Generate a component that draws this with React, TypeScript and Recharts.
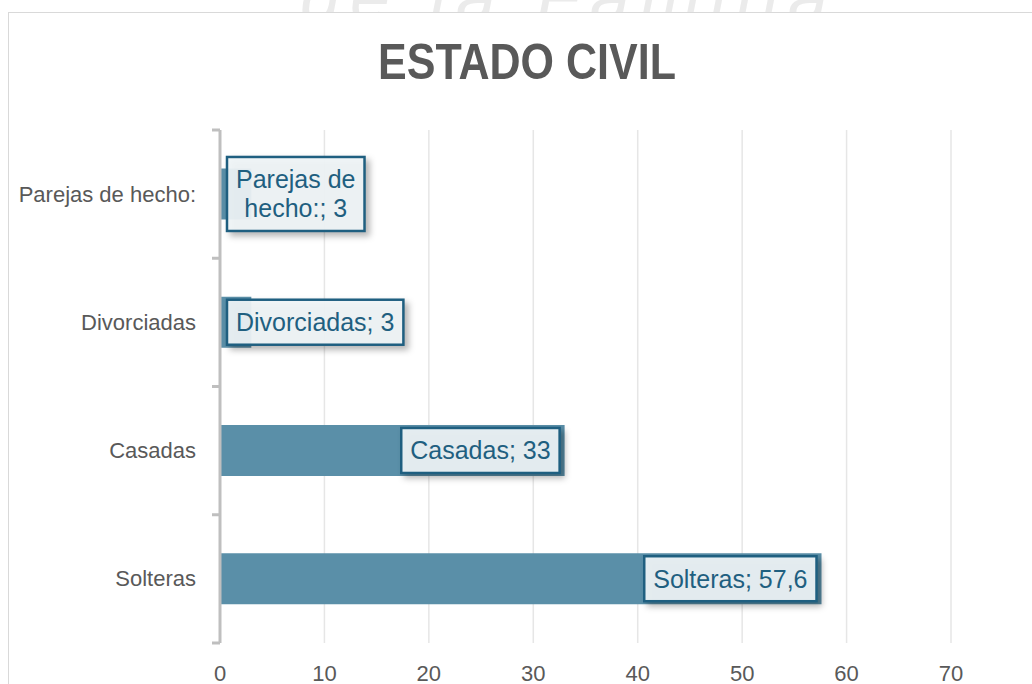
import { Bar, BarChart, CartesianGrid, LabelList, XAxis, YAxis } from "recharts";

const categories = ["Parejas de hecho:", "Divorciadas", "Casadas", "Solteras"];
const values = [3, 3, 33, 57.6];
const xTicks = [0, 10, 20, 30, 40, 50, 60, 70];

const data = categories.map((name, i) => ({ name, value: values[i] }));

const FONT = '"Liberation Sans", Arial, sans-serif';
const GREY = "#595959";
const BAR = "#5a8fa8";
const DARK = "#1f5f80";
const LABEL_FS = 25;
const LINE_H = 29;
const PAD_X = 9;
const PAD_Y = 8;
const MAX_LINE = 175;

let ctx: CanvasRenderingContext2D | null = null;
function textWidth(s: string) {
  if (!ctx) ctx = document.createElement("canvas").getContext("2d");
  if (!ctx) return s.length * LABEL_FS * 0.55;
  ctx.font = `${LABEL_FS}px "Liberation Sans"`;
  return ctx.measureText(s).width;
}

// greedy word wrap, like Excel does for long data labels
function wrap(s: string) {
  const words = s.split(" ");
  const lines: string[] = [];
  let cur = "";
  for (const w of words) {
    const next = cur ? cur + " " + w : w;
    if (cur && textWidth(next) > MAX_LINE) {
      lines.push(cur);
      cur = w;
    } else cur = next;
  }
  if (cur) lines.push(cur);
  return lines;
}

function CategoryTick(props: any) {
  const { x, y, payload, index } = props;
  const half = payload.offset || 64;
  return (
    <g>
      <text x={x - 24} y={y} textAnchor="end" dominantBaseline="central" fill={GREY} fontSize={22} fontFamily={FONT}>
        {payload.value}
      </text>
      <line x1={x - 8} x2={x} y1={y - half} y2={y - half} stroke="#bfbfbf" strokeWidth={3} />
      {index === categories.length - 1 && (
        <line x1={x - 8} x2={x} y1={y + half} y2={y + half} stroke="#bfbfbf" strokeWidth={3} />
      )}
    </g>
  );
}

function ValueTick(props: any) {
  const { x, y, payload } = props;
  return (
    <text x={x} y={y + 38} textAnchor="middle" fill={GREY} fontSize={22} fontFamily={FONT}>
      {payload.value}
    </text>
  );
}

function BoxLabel(props: any) {
  const { x, y, width, height, value, index } = props;
  const text = `${categories[index]}; ${String(value).replace(".", ",")}`;
  const lines = wrap(text);
  const w = Math.max(...lines.map(textWidth)) + PAD_X * 2;
  const h = lines.length * LINE_H + PAD_Y * 2;
  const bx = w + 10 < width ? x + width - w - 5 : x + 7;
  const by = y + height / 2 - h / 2;
  return (
    <g>
      <rect
        x={bx}
        y={by}
        width={w}
        height={h}
        fill="rgba(240,245,248,0.93)"
        stroke={DARK}
        strokeWidth={2.5}
        style={{ filter: "drop-shadow(4px 4px 3px rgba(0,0,0,0.3))" }}
      />
      {lines.map((l, i) => (
        <text
          key={i}
          x={bx + w / 2}
          y={by + PAD_Y + LINE_H * i + LINE_H / 2}
          textAnchor="middle"
          dominantBaseline="central"
          fill={DARK}
          fontSize={LABEL_FS}
          fontFamily={FONT}
        >
          {l}
        </text>
      ))}
    </g>
  );
}

export default function App() {
  return (
    <div style={{ position: "fixed", left: 0, top: 0, width: 1032, height: 684, overflow: "hidden", background: "#fff" }}>
      {/* faint watermark peeking above the chart frame */}
      <div
        style={{
          position: "absolute",
          left: 300,
          top: -44,
          fontFamily: FONT,
          fontStyle: "italic",
          fontSize: 72,
          letterSpacing: 10,
          color: "#ebebeb",
          whiteSpace: "nowrap",
        }}
      >
        de la Familia
      </div>
      <div
        style={{
          position: "absolute",
          left: 8,
          top: 12,
          width: 1100,
          height: 700,
          border: "1px solid #d9d9d9",
          background: "#fff",
        }}
      />
      <div
        style={{
          position: "absolute",
          left: 11,
          top: 37,
          width: 1032,
          textAlign: "center",
          fontFamily: FONT,
          fontWeight: "bold",
          fontSize: 50,
          lineHeight: "50px",
          color: GREY,
          transform: "scaleX(0.86)",
        }}
      >
        ESTADO CIVIL
      </div>
      <div style={{ position: "absolute", left: 0, top: 0 }}>
        <BarChart
          width={1032}
          height={684}
          data={data}
          layout="vertical"
          margin={{ top: 130, right: 81, bottom: 0, left: 0 }}
          barCategoryGap="30%"
        >
          <CartesianGrid horizontal={false} stroke="#e6e6e6" strokeWidth={1.5} />
          <XAxis
            type="number"
            domain={[0, 70]}
            ticks={xTicks}
            axisLine={false}
            tickLine={false}
            tickSize={0}
            tickMargin={0}
            height={41}
            tick={<ValueTick />}
            interval={0}
          />
          <Bar dataKey="value" fill={BAR} isAnimationActive={false}>
            <LabelList dataKey="value" content={<BoxLabel />} />
          </Bar>
          <YAxis
            type="category"
            dataKey="name"
            width={220}
            axisLine={{ stroke: "#bfbfbf", strokeWidth: 3 }}
            tickLine={false}
            tickSize={0}
            tickMargin={0}
            tick={<CategoryTick />}
            interval={0}
          />
        </BarChart>
      </div>
    </div>
  );
}
